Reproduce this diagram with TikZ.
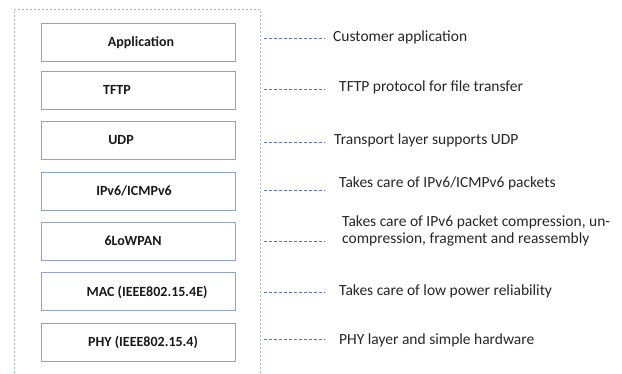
\documentclass[tikz,border=0pt]{standalone}
\usepackage{fontspec}
\setmainfont{Carlito}
\definecolor{framecol}{RGB}{160,182,212}
\definecolor{boxcol}{RGB}{140,165,200}
\definecolor{linkcol}{RGB}{85,120,178}

\begin{document}
\begin{tikzpicture}[x=1pt,y=-1pt,
  layer/.style={draw=boxcol, line width=0.9pt, minimum width=194pt, minimum height=38pt},
  lbl/.style={font=\bfseries\fontsize{14}{16}\selectfont, text=black!90},
  link/.style={linkcol, dash pattern=on 3pt off 2pt, line width=0.7pt},
  note/.style={anchor=west, inner sep=0pt, align=left, font=\fontsize{15.5}{17}\selectfont, text=black!85}]
\useasboundingbox (0,0) rectangle (622,373);
% frame round the stack, open at the bottom
\draw[framecol, line width=1pt, dash pattern=on 2pt off 2pt] (14,373) -- (14,9) -- (260,9) -- (260,373);

% protocol layers
\node[layer] (app) at (138,42.5) {};
\node[layer] (tftp) at (138,90) {};
\node[layer] (udp) at (138,140) {};
\node[layer] (ipv6) at (138,191) {};
\node[layer] (lowpan) at (138,241) {};
\node[layer] (mac) at (138,291) {};
\node[layer] (phy) at (138,342) {};
\node[lbl] (app-t) at (141,43) {Application};
\node[lbl] (tftp-t) at (117,90) {TFTP};
\node[lbl] (udp-t) at (121,140) {UDP};
\node[lbl] (ipv6-t) at (134,191) {IPv6/ICMPv6};
\node[lbl] (lowpan-t) at (133,241) {6LoWPAN};
\node[lbl] (mac-t) at (147,292) {MAC (IEEE802.15.4E)};
\node[lbl] (phy-t) at (143,342) {PHY (IEEE802.15.4)};

% descriptions
\node[note] (app-n) at (333,37) {Customer application};
\node[note] (tftp-n) at (339,87) {TFTP protocol for file transfer};
\node[note] (udp-n) at (334,140) {Transport layer supports UDP};
\node[note] (ipv6-n) at (339,183) {Takes care of IPv6/ICMPv6 packets};
\node[note] (lowpan-n) at (342,231) {Takes care of IPv6 packet compression, un-\\compression, fragment and reassembly};
\node[note] (mac-n) at (339,291) {Takes care of low power reliability};
\node[note] (phy-n) at (339,340) {PHY layer and simple hardware};

% leader lines from the frame
\coordinate (app-c) at (264,38);
\coordinate (tftp-c) at (264,89);
\coordinate (udp-c) at (264,142);
\coordinate (ipv6-c) at (264,190);
\coordinate (lowpan-c) at (264,241);
\coordinate (mac-c) at (264,292);
\coordinate (phy-c) at (264,339);
\draw[link] (app-c) -- ++(61,0);
\draw[link] (tftp-c) -- ++(61,0);
\draw[link] (udp-c) -- ++(61,0);
\draw[link] (ipv6-c) -- ++(61,0);
\draw[link] (lowpan-c) -- ++(61,0);
\draw[link] (mac-c) -- ++(61,0);
\draw[link] (phy-c) -- ++(61,0);
\end{tikzpicture}
\end{document}
